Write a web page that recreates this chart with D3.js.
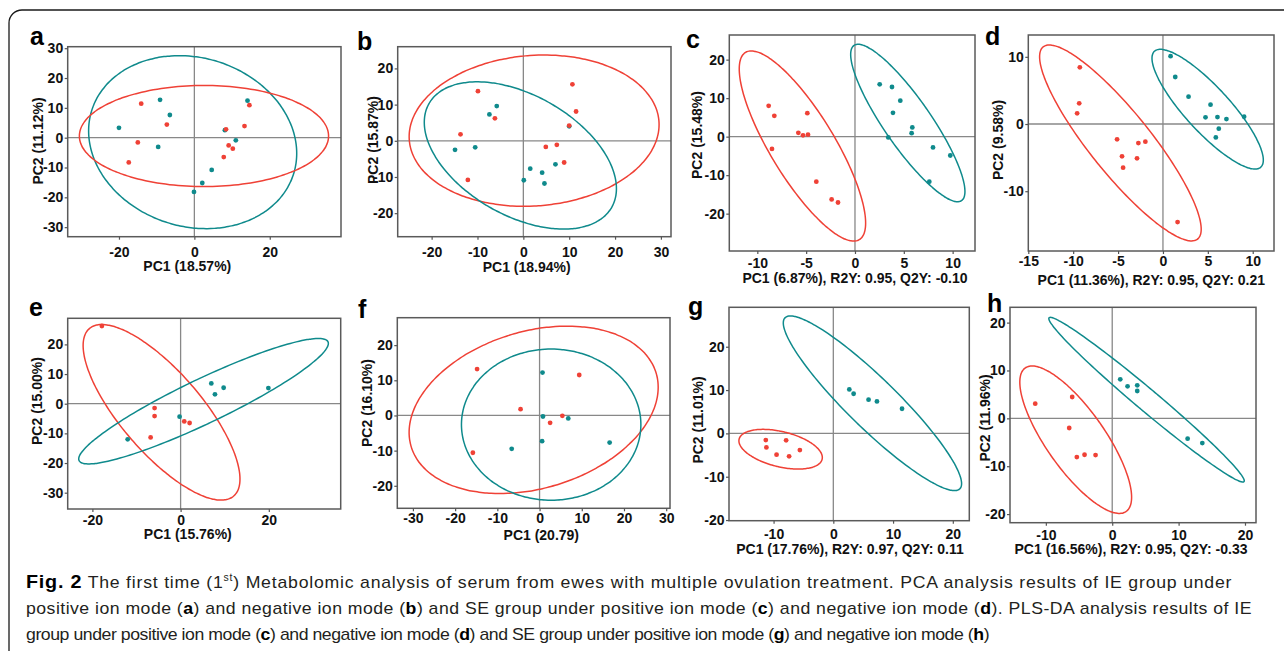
<!DOCTYPE html>
<html>
<head>
<meta charset="utf-8">
<script src="https://cdn.jsdelivr.net/npm/d3@7"></script>
<style>
  body { margin: 0; background: #fff; }
  svg { display: block; }
  .axis-title { font-family: "Liberation Sans", Arial, sans-serif; font-weight: bold; font-size: 14px; fill: #111; }
  .panel-letter { font-family: "Liberation Sans", Arial, sans-serif; font-weight: bold; font-size: 25px; fill: #000; }
  .caption { font-family: "Liberation Sans", Arial, sans-serif; font-size: 17px; fill: #231f20; }
</style>
</head>
<body>
<div id="chart"></div>
<script>
// ---- data ----
const panelLetters = ["a", "b", "c", "d", "e", "f", "g", "h"];

const xTitles = [
    "PC1 (18.57%)", "PC1 (18.94%)",
    "PC1 (6.87%), R2Y: 0.95, Q2Y: -0.10", "PC1 (11.36%), R2Y: 0.95, Q2Y: 0.21",
    "PC1 (15.76%)", "PC1 (20.79)",
    "PC1 (17.76%), R2Y: 0.97, Q2Y: 0.11", "PC1 (16.56%), R2Y: 0.95, Q2Y: -0.33"
];
const yTitles = ["PC2 (11.12%)", "PC2 (15.87%)", "PC2 (15.48%)", "PC2 (9.58%)",
    "PC2 (15.00%)", "PC2 (16.10%)", "PC2 (11.01%)", "PC2 (11.96%)"];

const xDomains = [[-33.6, 38.9], [-27.4, 32.2], [-12.87, 12.29], [-15.0, 12.37],
    [-25.6, 36.3], [-33.7, 30.9], [-17.46, 22.76], [-15.4, 21.66]];
const yDomains = [[-33.2, 30.5], [-26.5, 26], [-29.7, 26.4], [-18.9, 13.25],
    [-35.5, 28.8], [-26.4, 27.8], [-20.15, 29.1], [-21.8, 23.2]];

const xTicks = [[-20, 0, 20], [-20, -10, 0, 10, 20, 30], [-10, -5, 0, 5, 10], [-15, -10, -5, 0, 5, 10],
    [-20, 0, 20], [-30, -20, -10, 0, 10, 20, 30], [-10, 0, 10, 20], [-10, 0, 10, 20]];
const yTicks = [[-30, -20, -10, 0, 10, 20, 30], [-20, -10, 0, 10, 20], [-20, -10, 0, 10, 20], [-10, 0, 10],
    [-30, -20, -10, 0, 10, 20], [-20, -10, 0, 10, 20], [-20, -10, 0, 10, 20], [-20, -10, 0, 10, 20]];

// scores, [PC1, PC2]
const aRed = [[-14.1, 11.4], [-7.3, 4.4], [-15.0, -1.6], [-17.4, -8.3], [8.4, 2.8], [14.6, 10.9], [13.3, 3.9], [9.1, -2.6], [10.2, -3.7], [7.8, -6.5]];
const aTeal = [[-20.0, 3.3], [-9.1, 12.7], [-6.5, 7.6], [-9.6, -3.1], [8.1, 2.5], [14.1, 12.4], [11.0, -0.9], [4.6, -10.8], [2.1, -15.2], [-0.1, -18.2]];
const bRed = [[-9.9, 13.7], [10.7, 15.6], [11.5, 8.1], [-6.2, 6.2], [-13.7, 1.8], [10.0, 4.2], [4.9, -1.7], [7.3, -1.1], [8.9, -6.0], [-12.1, -10.8]];
const bTeal = [[-5.8, 9.6], [-7.4, 7.3], [-14.9, -2.5], [-10.5, -1.8], [10.0, 4.0], [1.5, -7.7], [4.1, -8.8], [7.0, -6.5], [4.6, -11.8], [0.1, -10.9]];
const cRed = [[-8.84, 8.0], [-8.26, 5.4], [-4.88, 6.1], [-5.8, 1.0], [-5.32, 0.35], [-4.81, 0.5], [-8.5, -3.2], [-3.96, -11.7], [-2.39, -16.3], [-1.74, -17.1]];
const cTeal = [[2.53, 13.6], [3.79, 12.9], [4.64, 9.35], [3.89, 6.2], [5.87, 2.4], [5.8, 0.9], [3.41, -0.2], [7.99, -2.8], [9.76, -4.9], [7.61, -11.7]];
const dRed = [[-9.26, 8.44], [-9.33, 3.08], [-9.56, 1.59], [-5.11, -2.28], [-2.74, -2.83], [-1.96, -2.63], [-4.56, -4.81], [-2.89, -5.11], [-4.44, -6.5], [1.63, -14.6]];
const dTeal = [[0.85, 10.1], [1.37, 7.0], [2.85, 4.07], [5.3, 2.88], [4.74, 0.99], [6.07, 1.04], [7.07, 0.74], [9.04, 1.09], [6.22, -0.69], [5.89, -1.99]];
const eRed = [[-17.85, 26.2], [-5.9, -1.46], [-5.9, -4.16], [-6.8, -11.35], [0.83, -5.96], [2.04, -6.5]];
const eTeal = [[6.96, 6.85], [9.76, 5.39], [7.79, 3.15], [19.9, 5.28], [-0.23, -4.38], [-12.0, -12.0]];
const fRed = [[-14.8, 13.2], [9.4, 11.5], [-4.5, 1.8], [5.4, -0.1], [2.5, -2.1], [-15.8, -10.6]];
const fTeal = [[0.7, 12.2], [0.8, -0.3], [6.8, -0.85], [0.6, -7.3], [-6.6, -9.5], [16.6, -7.7]];
const gRed = [[-11.3, -1.54], [-11.2, -3.23], [-7.9, -1.6], [-9.5, -4.92], [-7.4, -5.3], [-5.6, -3.85]];
const gTeal = [[2.68, 10.15], [3.4, 9.15], [5.9, 7.77], [7.3, 7.38], [11.5, 5.69]];
const hRed = [[-11.6, 3.07], [-6.03, 4.46], [-6.48, -2.02], [-5.33, -8.08], [-4.17, -7.6], [-2.51, -7.67]];
const hTeal = [[1.21, 8.15], [2.31, 6.69], [3.77, 6.9], [3.77, 5.71], [11.36, -4.25], [13.57, -5.16]];

// confidence ellipses: centre, half extents along PC1 / PC2, correlation
const aEllipses = [{ group: "teal", cx: -0.45, cy: -1.5, w: 27.6, h: 29.0, rho: -0.13 }, { group: "red", cx: 2.55, cy: 0.55, w: 33.05, h: 16.95, rho: 0.0 }];
const bEllipses = [{ group: "red", cx: 2.35, cy: 2.8, w: 27.25, h: 20.9, rho: 0.08 }, { group: "teal", cx: -0.65, cy: -4.05, w: 20.95, h: 20.35, rho: -0.45 }];
const cEllipses = [{ group: "red", cx: -5.38, cy: -2.43, w: 6.47, h: 24.7, rho: -0.81 }, { group: "teal", cx: 5.41, cy: 3.55, w: 5.85, h: 20.45, rho: -0.87 }];
const dEllipses = [{ group: "red", cx: -4.74, cy: -2.82, w: 9.0, h: 14.58, rho: -0.88 }, { group: "teal", cx: 4.98, cy: 2.21, w: 6.2, h: 8.91, rho: -0.85 }];
const eEllipses = [{ group: "red", cx: -4.32, cy: -2.9, w: 17.78, h: 29.6, rho: -0.76 }, { group: "teal", cx: 5.2, cy: 0.85, w: 28.3, h: 21.15, rho: 0.92 }];
const fEllipses = [{ group: "red", cx: -1.4, cy: 1.6, w: 29.5, h: 23.8, rho: 0.27 }, { group: "teal", cx: 2.75, cy: -2.6, w: 21.25, h: 21.5, rho: 0.0 }];
const gEllipses = [{ group: "red", cx: -8.82, cy: -3.65, w: 6.98, h: 4.58, rho: -0.42 }, { group: "teal", cx: 6.55, cy: 6.95, w: 14.92, h: 20.15, rho: -0.92 }];
const hEllipses = [{ group: "red", cx: -5.5, cy: -4.46, w: 8.42, h: 15.4, rho: -0.78 }, { group: "teal", cx: 5.17, cy: 3.9, w: 14.72, h: 17.2, rho: -0.985 }];

const redPoints = [aRed, bRed, cRed, dRed, eRed, fRed, gRed, hRed];
const tealPoints = [aTeal, bTeal, cTeal, dTeal, eTeal, fTeal, gTeal, hTeal];
const ellipses = [aEllipses, bEllipses, cEllipses, dEllipses, eEllipses, fEllipses, gEllipses, hEllipses];

// caption, one array of [text, style] pieces per line
const captionLines = [
    [["Fig. 2", "b"], ["  The first time (1", ""], ["st", "sup"], [") Metabolomic analysis of serum from ewes with multiple ovulation treatment. PCA analysis results of IE group under", ""]],
    [["positive ion mode (", ""], ["a", "b"], [") and negative ion mode (", ""], ["b", "b"], [") and SE group under positive ion mode (", ""], ["c", "b"], [") and negative ion mode (", ""], ["d", "b"], ["). PLS-DA analysis results of IE", ""]],
    [["group under positive ion mode (", ""], ["c", "b"], [") and negative ion mode (", ""], ["d", "b"], [") and SE group under positive ion mode (", ""], ["g", "b"], [") and negative ion mode (", ""], ["h", "b"], [")", ""]]
];

// ---- layout (pixels) ----
const panelLayout = [
    { x0: 67.7, y0: 46.7, x1: 341, y1: 236.7, tickY: 256.7, titleX: 187.3, titleY: 271, yTitleX: 38, yTitleY: 141, letterX: 30, letterY: 45 },
    { x0: 397.7, y0: 46.7, x1: 671, y1: 236.7, tickY: 256.7, titleX: 526.7, titleY: 272, yTitleX: 373, yTitleY: 140, letterX: 357, letterY: 50 },
    { x0: 729.3, y0: 35, x1: 975, y1: 251, tickY: 267.7, titleX: 855, titleY: 283, yTitleX: 696.7, yTitleY: 135, letterX: 686, letterY: 48 },
    { x0: 1028.3, y0: 35, x1: 1274, y1: 251, tickY: 265.7, titleX: 1151.3, titleY: 285, yTitleX: 998, yTitleY: 140, letterX: 985, letterY: 45 },
    { x0: 67.7, y0: 318.3, x1: 340.7, y1: 509, tickY: 525, titleX: 187.8, titleY: 539, yTitleX: 36.7, yTitleY: 401, letterX: 29, letterY: 316 },
    { x0: 397.3, y0: 317.7, x1: 670, y1: 508.3, tickY: 523.3, titleX: 541.3, titleY: 540, yTitleX: 366.7, yTitleY: 403, letterX: 358, letterY: 318 },
    { x0: 729, y0: 307.3, x1: 969.3, y1: 520.7, tickY: 539.3, titleX: 850, titleY: 554, yTitleX: 698, yTitleY: 420, letterX: 688, letterY: 315 },
    { x0: 1010, y0: 307.3, x1: 1256, y1: 522.7, tickY: 540, titleX: 1131, titleY: 554, yTitleX: 985, yTitleY: 418, letterX: 987, letterY: 312 }
];
const captionLayout = { x: 26, baselines: [588, 614, 640], widths: [1208, 1227, 964], glyphScale: 1.04 };

const groupColor = { red: "#EF4136", teal: "#0F8A8C" };
const tickFont = "'Liberation Sans', Arial, sans-serif";

class ScorePlot {

    /**
     * One score plot with two groups and their confidence ellipses.
     * @param svg - d3 selection to draw into
     * @param layout - object, pixel box and label positions
     * @param data - object, points, ellipses, domains, ticks and titles
     */
    constructor(svg, layout, data) {
        this.svg = svg;
        this.layout = layout;
        this.data = data;

        this.configureVis();
    }

    configureVis() {
        const vis = this;
        const L = vis.layout;

        vis.xScale = d3.scaleLinear().domain(vis.data.xDomain).range([L.x0, L.x1]);
        vis.yScale = d3.scaleLinear().domain(vis.data.yDomain).range([L.y1, L.y0]);

        vis.g = vis.svg.append("g").attr("class", "panel");

        vis.renderVis();
    }

    ellipsePoints(e) {
        const delta = Math.acos(e.rho);
        return d3.range(0, 360, 2).map(deg => {
            const t = deg * Math.PI / 180;
            return [e.cx + e.w * Math.cos(t), e.cy + e.h * Math.cos(t - delta)];
        });
    }

    styleAxis(g) {
        g.attr("font-family", null).attr("font-size", null);
        g.select(".domain").remove();
        g.selectAll(".tick line").attr("stroke", "#555").attr("stroke-width", 1.2);
        g.selectAll(".tick text")
            .style("font-family", tickFont)
            .style("font-weight", "bold")
            .style("font-size", "14px")
            .attr("fill", "#111");
    }

    renderVis() {
        const vis = this;
        const L = vis.layout;
        const x = vis.xScale, y = vis.yScale;

        // zero lines
        vis.g.append("line")
            .attr("x1", x(0)).attr("x2", x(0))
            .attr("y1", L.y0).attr("y2", L.y1)
            .attr("stroke", "#888").attr("stroke-width", 1.3);
        vis.g.append("line")
            .attr("x1", L.x0).attr("x2", L.x1)
            .attr("y1", y(0)).attr("y2", y(0))
            .attr("stroke", "#888").attr("stroke-width", 1.3);

        const line = d3.line().x(d => x(d[0])).y(d => y(d[1])).curve(d3.curveCardinalClosed);

        vis.g.selectAll(".ellipse")
            .data(vis.data.ellipses)
            .join("path")
            .attr("class", "ellipse")
            .attr("d", d => line(vis.ellipsePoints(d)))
            .attr("fill", "none")
            .attr("stroke", d => groupColor[d.group])
            .attr("stroke-width", 1.5);

        const pts = vis.data.teal.map(p => ({ p, group: "teal" }))
            .concat(vis.data.red.map(p => ({ p, group: "red" })));

        vis.g.selectAll(".dot")
            .data(pts)
            .join("circle")
            .attr("class", "dot")
            .attr("cx", d => x(d.p[0]))
            .attr("cy", d => y(d.p[1]))
            .attr("r", 2.4)
            .attr("fill", d => groupColor[d.group]);

        // frame
        vis.g.append("rect")
            .attr("x", L.x0).attr("y", L.y0)
            .attr("width", L.x1 - L.x0).attr("height", L.y1 - L.y0)
            .attr("fill", "none")
            .attr("stroke", "#5a5a5a")
            .attr("stroke-width", 1.5);

        const xAxis = d3.axisBottom(x)
            .tickValues(vis.data.xTicks)
            .tickFormat(d => String(d))
            .tickSize(3)
            .tickPadding(L.tickY - L.y1 - 3 - 0.71 * 14);
        vis.g.append("g")
            .attr("transform", `translate(0, ${L.y1})`)
            .call(xAxis)
            .call(g => vis.styleAxis(g));

        const yAxis = d3.axisLeft(y)
            .tickValues(vis.data.yTicks)
            .tickFormat(d => String(d))
            .tickSize(3)
            .tickPadding(1.5);
        vis.g.append("g")
            .attr("transform", `translate(${L.x0}, 0)`)
            .call(yAxis)
            .call(g => vis.styleAxis(g));

        vis.g.append("text")
            .attr("class", "axis-title")
            .attr("x", L.titleX)
            .attr("y", L.titleY)
            .attr("text-anchor", "middle")
            .text(vis.data.xTitle);

        vis.g.append("text")
            .attr("class", "axis-title")
            .attr("transform", `translate(${L.yTitleX}, ${L.yTitleY}) rotate(-90)`)
            .attr("dy", "0.35em")
            .attr("text-anchor", "middle")
            .text(vis.data.yTitle);

        vis.g.append("text")
            .attr("class", "panel-letter")
            .attr("x", L.letterX)
            .attr("y", L.letterY)
            .text(vis.data.letter);
    }
}

const svg = d3.select("#chart")
    .append("svg")
    .attr("width", 1284)
    .attr("height", 651);

svg.append("rect").attr("width", 1284).attr("height", 651).attr("fill", "#fff");

// rounded figure border
svg.append("path")
    .attr("d", "M9,665 V23 A13,13 0 0 1 22,10 H1295")
    .attr("fill", "none")
    .attr("stroke", "#1a1a1a")
    .attr("stroke-width", 1.3);

panelLetters.forEach((letter, i) => {
    new ScorePlot(svg, panelLayout[i], {
        letter,
        xTitle: xTitles[i],
        yTitle: yTitles[i],
        xDomain: xDomains[i],
        yDomain: yDomains[i],
        xTicks: xTicks[i],
        yTicks: yTicks[i],
        red: redPoints[i],
        teal: tealPoints[i],
        ellipses: ellipses[i]
    });
});

// caption: same slight horizontal stretch on every line, letter spacing fills the measured width
captionLines.forEach((pieces, i) => {
    const k = captionLayout.glyphScale;
    const t = svg.append("text")
        .attr("class", "caption")
        .attr("x", 0)
        .attr("y", 0);
    pieces.forEach(([txt, style]) => {
        const s = t.append("tspan").text(txt);
        if (style === "b") s.attr("font-weight", "bold").attr("fill", "#000");
        if (style === "sup") s.attr("font-size", "10px").attr("dy", "-7");
        if (i === 0 && txt.startsWith(") Metab")) s.attr("dy", "7");
    });
    if (i === 0) t.select("tspan").attr("font-size", "19px");
    const natural = t.node().getComputedTextLength();
    const nChars = pieces.map(p => p[0]).join("").length;
    const spacing = (captionLayout.widths[i] / k - natural) / nChars;
    t.style("letter-spacing", spacing.toFixed(3) + "px")
        .attr("transform", `translate(${captionLayout.x}, ${captionLayout.baselines[i]}) scale(${k}, 1)`);
});
</script>
</body>
</html>
